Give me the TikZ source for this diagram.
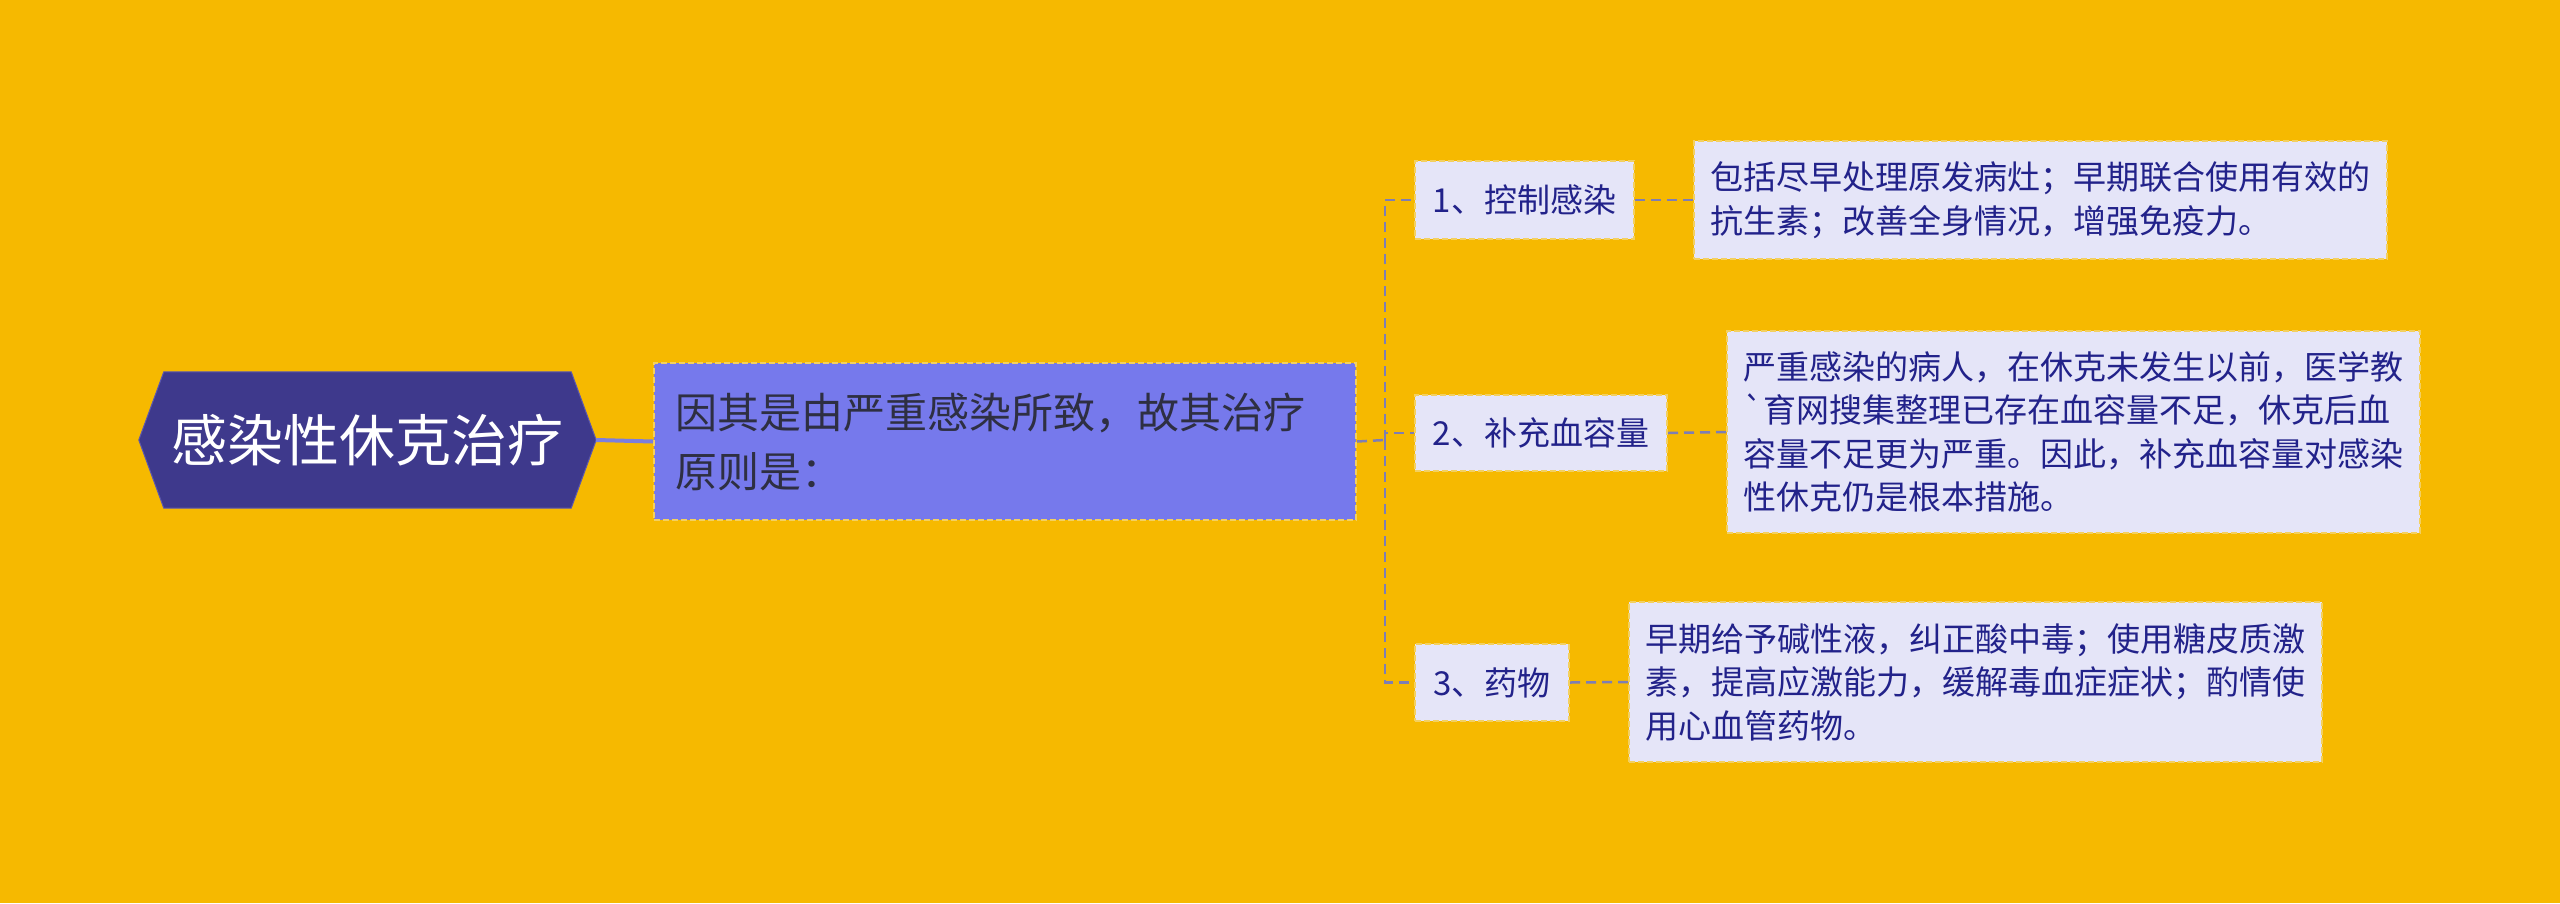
\documentclass[tikz,border=0pt]{standalone}
\usepackage{fontspec}
\setmainfont{Noto Sans CJK SC}[Ligatures=TeXOff]
\definecolor{bgc}{HTML}{F6B900}
\definecolor{rootfill}{HTML}{3E398C}
\definecolor{rootedge}{HTML}{5B57AE}
\definecolor{mainfill}{HTML}{7679EC}
\definecolor{maintext}{HTML}{2E2F42}
\definecolor{boxfill}{HTML}{E5E5F8}
\definecolor{dashcol}{HTML}{F3D060}
\definecolor{navytext}{HTML}{22228A}
\definecolor{linkcol}{HTML}{7E7EB4}
\definecolor{rootlinkcol}{HTML}{7C7EDD}
\pgfdeclarelayer{bg}
\pgfsetlayers{bg,main}
\begin{document}
\begin{tikzpicture}[x=1pt,y=-1pt,
  leaf/.style={rectangle, fill=boxfill, draw=dashcol, dash pattern=on 6pt off 3pt, line width=2pt, text=navytext, align=left, anchor=north west, inner xsep=16pt, inner ysep=0pt, text width=661pt, font=\fontsize{33}{43.5}\selectfont},
  sub/.style={rectangle, fill=boxfill, draw=dashcol, dash pattern=on 6pt off 3pt, line width=2pt, text=navytext, align=center, anchor=north west, inner sep=0pt, font=\fontsize{33}{43.5}\selectfont},
  mainbox/.style={rectangle, fill=mainfill, draw=dashcol, dash pattern=on 6pt off 3pt, line width=2pt, text=maintext, align=left, anchor=north west, inner xsep=21pt, inner ysep=0pt, text width=660pt, font=\fontsize{42}{59}\selectfont},
  rootbox/.style={rectangle, inner sep=0pt, text=white, font=\fontsize{56}{60}\selectfont},
  link/.style={draw=linkcol, line width=2.5pt, dash pattern=on 10pt off 6pt},
  rootlink/.style={draw=rootlinkcol, line width=4pt},
]
\useasboundingbox (0,0) rectangle (2560,903);
\begin{pgfonlayer}{bg}
\fill[bgc] (0,0) rectangle (2560,903);
\end{pgfonlayer}

% root
\node[rootbox, minimum width=457pt, minimum height=136pt] (root) at (367.5,440) {感染性休克治疗};
\begin{pgfonlayer}{bg}
\fill[rootfill, draw=rootedge, line width=1pt]
  ([xshift=25pt]root.north west) -- ([xshift=-25pt]root.north east) -- (root.east)
  -- ([xshift=-25pt]root.south east) -- ([xshift=25pt]root.south west) -- (root.west) -- cycle;
\end{pgfonlayer}

% main
\node[mainbox, minimum height=157pt] (main) at (653,362) {因其是由严重感染所致，故其治疗\\原则是：};

% sub nodes
\node[sub, minimum width=219pt, minimum height=78pt] (n1) at (1414,160) {1、控制感染};
\node[sub, minimum width=252pt, minimum height=76pt] (n2) at (1414,394) {2、补充血容量};
\node[sub, minimum width=154pt, minimum height=77pt] (n3) at (1414,643) {3、药物};

% details
\node[leaf, minimum height=118pt] (d1) at (1693,140) {包括尽早处理原发病灶；早期联合使用有效的\\抗生素；改善全身情况，增强免疫力。};
\node[leaf, minimum height=202pt] (d2) at (1726,330) {严重感染的病人，在休克未发生以前，医学教\\`育网搜集整理已存在血容量不足，休克后血\\容量不足更为严重。因此，补充血容量对感染\\性休克仍是根本措施。};
\node[leaf, minimum height=160pt] (d3) at (1628,601) {早期给予碱性液，纠正酸中毒；使用糖皮质激\\素，提高应激能力，缓解毒血症症状；酌情使\\用心血管药物。};

% connectors
\draw[rootlink] (root.east) -- (main.west);
\coordinate (trunk) at (1385,440);
\draw[link] (main.east) -- (trunk);
\draw[link] (trunk) |- (n1.west);
\draw[link] (trunk) |- (n2.west);
\draw[link] (trunk) |- (n3.west);
\draw[link] (n1.east) -- (d1.west);
\draw[link] (n2.east) -- (d2.west);
\draw[link] (n3.east) -- (d3.west);
\end{tikzpicture}
\end{document}
